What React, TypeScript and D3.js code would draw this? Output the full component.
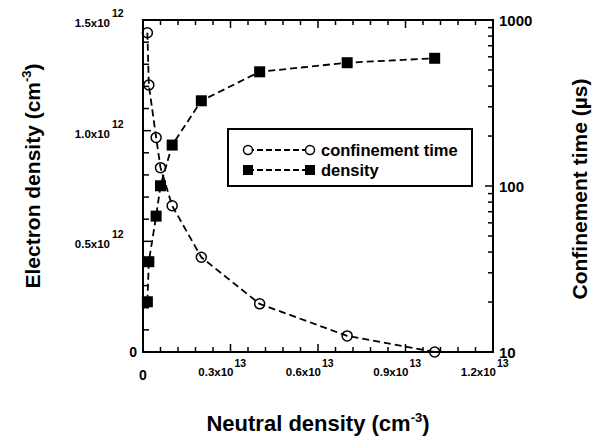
import React from "react";
import * as d3 from "d3";

// Neutral density (×1e13 cm^-3)
const neutral = [0.015, 0.02, 0.045, 0.06, 0.1, 0.2, 0.4, 0.7, 1.0];
// Confinement time (µs)
const confinement = [838, 406, 196, 129, 76, 37.2, 19.5, 12.5, 10.0];
// Electron density (×1e12 cm^-3)
const density = [0.227, 0.408, 0.614, 0.751, 0.935, 1.135, 1.266, 1.307, 1.327];

const xTickLabels = [
  { v: 0.3, base: "0.3x10", sup: "13" },
  { v: 0.6, base: "0.6x10", sup: "13" },
  { v: 0.9, base: "0.9x10", sup: "13" },
  { v: 1.2, base: "1.2x10", sup: "13" },
];
const yTickLabels = [
  { v: 0.5, base: "0.5x10", sup: "12" },
  { v: 1.0, base: "1.0x10", sup: "12" },
  { v: 1.5, base: "1.5x10", sup: "12" },
];
const rightTickLabels = [10, 100, 1000];

const FONT = "'Liberation Sans', Arial, Helvetica, sans-serif";

export default function App() {
  const W = 602, H = 443;
  const L = 143, R = 493, T = 20, B = 352;
  const x = d3.scaleLinear().domain([0, 1.2]).range([L, R]);
  const yL = d3.scaleLinear().domain([0, 1.5]).range([B, T]);
  const yR = d3.scaleLog().domain([10, 1000]).range([B, T]);

  const xMinor = d3.range(0, 1.2 + 1e-9, 0.06);
  const yMinor = d3.range(0, 1.5 + 1e-9, 0.1);
  const rMinor: number[] = [];
  [10, 100].forEach((d) => d3.range(1, 10).forEach((k) => rMinor.push(d * k)));
  rMinor.push(1000);

  const isMajor = (v: number, step: number) => Math.abs(v / step - Math.round(v / step)) < 1e-6;

  const circLine = d3
    .line<number>()
    .x((_, i) => x(neutral[i]))
    .y((d) => yR(d));
  const densLine = d3
    .line<number>()
    .x((_, i) => x(neutral[i]))
    .y((d) => yL(d));

  const sq = 11;
  const dash = "7,4";

  return (
    <svg width={W} height={H} style={{ position: "absolute", left: 0, top: 0, background: "#fff" }} fontFamily={FONT} fontWeight="bold">
      <rect x={0} y={0} width={W} height={H} fill="#fff" />
      {/* ticks */}
      {xMinor.map((v, i) => {
        const len = isMajor(v, 0.3) ? 8 : 5;
        return (
          <g key={"xt" + i}>
            <line x1={x(v)} x2={x(v)} y1={B} y2={B - len} stroke="#000" strokeWidth={1.5} />
            <line x1={x(v)} x2={x(v)} y1={T} y2={T + len} stroke="#000" strokeWidth={1.5} />
          </g>
        );
      })}
      {yMinor.map((v, i) => {
        const len = isMajor(v, 0.5) ? 8 : 6;
        return <line key={"yt" + i} x1={L} x2={L + len} y1={yL(v)} y2={yL(v)} stroke="#000" strokeWidth={1.5} />;
      })}
      {rMinor.map((v, i) => {
        const len = [10, 100, 1000].includes(v) ? 8 : 5;
        return <line key={"rt" + i} x1={R} x2={R - len} y1={yR(v)} y2={yR(v)} stroke="#000" strokeWidth={1.5} />;
      })}
      {/* frame */}
      <rect x={L} y={T} width={R - L} height={B - T} fill="none" stroke="#000" strokeWidth={2} />

      {/* x tick labels */}
      <text x={x(0)} y={B + 28} fontSize={14} textAnchor="middle">0</text>
      {xTickLabels.map((t) => (
        <g key={"xl" + t.v}>
          <text x={x(t.v) + 3} y={B + 24} fontSize={11.5} textAnchor="end">{t.base}</text>
          <text x={x(t.v) + 4} y={B + 15} fontSize={10.5} textAnchor="start">{t.sup}</text>
        </g>
      ))}
      {/* left tick labels */}
      <text x={137} y={yL(0)} fontSize={14} textAnchor="end" dominantBaseline="central">0</text>
      {yTickLabels.map((t) => (
        <g key={"yl" + t.v}>
          <text x={110} y={yL(t.v) + 7} fontSize={11.5} textAnchor="end">{t.base}</text>
          <text x={112} y={yL(t.v) - 3} fontSize={10.5} textAnchor="start">{t.sup}</text>
        </g>
      ))}
      {/* right tick labels */}
      {rightTickLabels.map((v) => (
        <text key={"rl" + v} x={R + 6} y={yR(v)} fontSize={15} dominantBaseline="central">{v}</text>
      ))}

      {/* series */}
      <path d={densLine(density) || ""} fill="none" stroke="#000" strokeWidth={1.8} strokeDasharray={dash} />
      <path d={circLine(confinement) || ""} fill="none" stroke="#000" strokeWidth={1.8} strokeDasharray={dash} />
      {density.map((d, i) => (
        <rect key={"s" + i} x={x(neutral[i]) - sq / 2} y={yL(d) - sq / 2} width={sq} height={sq} fill="#000" />
      ))}
      {confinement.map((d, i) => (
        <circle key={"c" + i} cx={x(neutral[i])} cy={yR(d)} r={5} fill="none" stroke="#000" strokeWidth={1.5} />
      ))}

      {/* legend */}
      <rect x={228} y={129} width={244} height={57} fill="#fff" stroke="#000" strokeWidth={2} />
      <line x1={248} x2={310} y1={150} y2={150} stroke="#000" strokeWidth={1.8} strokeDasharray="6,3" />
      <circle cx={248} cy={150} r={4.5} fill="#fff" stroke="#000" strokeWidth={1.5} />
      <circle cx={310} cy={150} r={4.5} fill="#fff" stroke="#000" strokeWidth={1.5} />
      <text x={321} y={155.5} fontSize={16.5}>confinement time</text>
      <line x1={248} x2={310} y1={170} y2={170} stroke="#000" strokeWidth={1.8} strokeDasharray="6,3" />
      <rect x={243} y={165} width={10} height={10} fill="#000" />
      <rect x={305} y={165} width={10} height={10} fill="#000" />
      <text x={321} y={175.5} fontSize={16.5}>density</text>

      {/* axis titles */}
      <text x={318} y={431} fontSize={22} textAnchor="middle">
        Neutral density (cm<tspan fontSize={13} dy={-9}>-3</tspan><tspan dy={9}>)</tspan>
      </text>
      <text transform="translate(40,176) rotate(-90)" fontSize={21} textAnchor="middle">
        Electron density (cm<tspan fontSize={13} dy={-9}>-3</tspan><tspan dy={9}>)</tspan>
      </text>
      <text transform="translate(587,189) rotate(-90)" fontSize={21} textAnchor="middle">
        Confinement time (µs)
      </text>
    </svg>
  );
}
